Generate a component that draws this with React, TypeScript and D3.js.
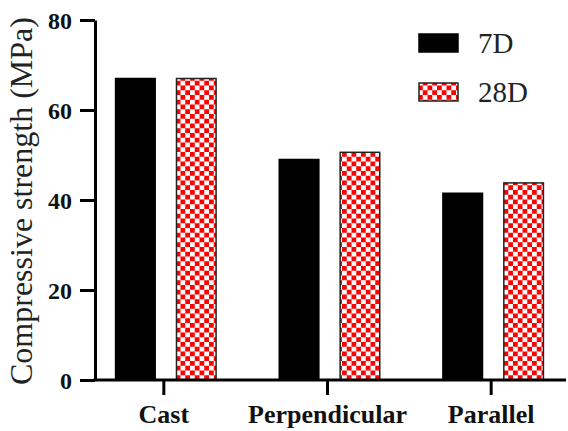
import { useEffect, useRef } from 'react';
import * as d3 from 'd3';

// data
const categories = ['Cast', 'Perpendicular', 'Parallel'];
const seriesNames = ['7D', '28D'];
const values7D = [67, 49, 41.5];
const values28D = [67, 50.6, 43.8];
const yTicks = [0, 20, 40, 60, 80];

const App = () => {
  const chartRef = useRef<SVGSVGElement | null>(null);

  useEffect(() => {
    const width = 568;
    const height = 431;
    const font = '"Times New Roman", Times, "Liberation Serif", "DejaVu Serif", serif';

    const svg = d3.select(chartRef.current);
    svg.selectAll('*').remove();
    svg.attr('width', width).attr('height', height).style('font-family', font);

    svg.append('rect').attr('width', width).attr('height', height).attr('fill', '#fff');

    // checker pattern for 28D
    const cell = 4.75;
    const pat = svg
      .append('defs')
      .append('pattern')
      .attr('id', 'checker')
      .attr('patternUnits', 'userSpaceOnUse')
      .attr('width', cell * 2)
      .attr('height', cell * 2);
    pat.append('rect').attr('width', cell * 2).attr('height', cell * 2).attr('fill', '#fff');
    pat.append('rect').attr('width', cell).attr('height', cell).attr('fill', '#ff0000');
    pat.append('rect').attr('x', cell).attr('y', cell).attr('width', cell).attr('height', cell).attr('fill', '#ff0000');

    // scales
    const axisX = 95;
    const axisY = 380;
    const x0 = d3.scaleBand().domain(categories).range([84, 575]).padding(0);
    const groupW = 100.5;
    const x1 = d3.scaleBand().domain(seriesNames).range([0, groupW]).paddingInner(0.35).paddingOuter(0);
    const y = d3.scaleLinear().domain([0, 80]).range([axisY, 20]);

    const series = [values7D, values28D];
    const fills = ['#000', 'url(#checker)'];
    const strokes = ['#000', '#222'];

    // bars
    categories.forEach((c, i) => {
      const gx = x0(c)! + (x0.bandwidth() - groupW) / 2;
      seriesNames.forEach((s, j) => {
        const v = series[j][i];
        svg
          .append('rect')
          .attr('x', gx + x1(s)!)
          .attr('y', y(v))
          .attr('width', x1.bandwidth())
          .attr('height', axisY - y(v))
          .attr('fill', fills[j])
          .attr('stroke', strokes[j])
          .attr('stroke-width', 1.5);
      });
    });

    // y axis
    const yAxis = svg
      .append('g')
      .attr('transform', `translate(${axisX},0)`)
      .call(d3.axisLeft(y).tickValues(yTicks).tickSize(15).tickSizeOuter(0).tickPadding(8));
    yAxis.attr('font-family', null);
    yAxis.selectAll('path, line').attr('stroke', '#000').attr('stroke-width', 3);
    yAxis
      .selectAll('text')
      .style('font-family', font)
      .attr('font-weight', 'bold')
      .attr('font-size', 24)
      .attr('fill', '#111')
      .attr('dy', '0.35em');

    // x axis
    svg
      .append('line')
      .attr('x1', axisX - 1.5)
      .attr('x2', 566)
      .attr('y1', axisY)
      .attr('y2', axisY)
      .attr('stroke', '#000')
      .attr('stroke-width', 3);
    categories.forEach((c) => {
      const cx = x0(c)! + x0.bandwidth() / 2 - 2;
      svg
        .append('line')
        .attr('x1', cx)
        .attr('x2', cx)
        .attr('y1', axisY)
        .attr('y2', axisY + 15)
        .attr('stroke', '#000')
        .attr('stroke-width', 3);
      svg
        .append('text')
        .attr('x', cx)
        .attr('y', 423)
        .attr('text-anchor', 'middle')
        .style('font-family', font)
        .attr('font-weight', 'bold')
        .attr('font-size', 26)
        .attr('fill', '#111')
        .text(c);
    });

    // y title
    svg
      .append('text')
      .attr('transform', 'translate(32,201) rotate(-90)')
      .attr('text-anchor', 'middle')
      .style('font-family', font)
      .attr('font-size', 32)
      .attr('fill', '#222')
      .text('Compressive strength (MPa)');

    // legend
    const legend = svg.append('g');
    seriesNames.forEach((s, j) => {
      const ly = 34 + j * 49;
      legend
        .append('rect')
        .attr('x', 419)
        .attr('y', ly)
        .attr('width', 39)
        .attr('height', 18)
        .attr('fill', fills[j])
        .attr('stroke', strokes[j])
        .attr('stroke-width', 1.5);
      legend
        .append('text')
        .attr('x', 478)
        .attr('y', ly + 19)
        .style('font-family', font)
        .attr('font-size', 29)
        .attr('fill', '#222')
        .text(s);
    });
  }, []);

  return (
    <svg ref={chartRef} style={{ position: 'absolute', left: 0, top: 0, display: 'block' }} />
  );
};

export default App;
